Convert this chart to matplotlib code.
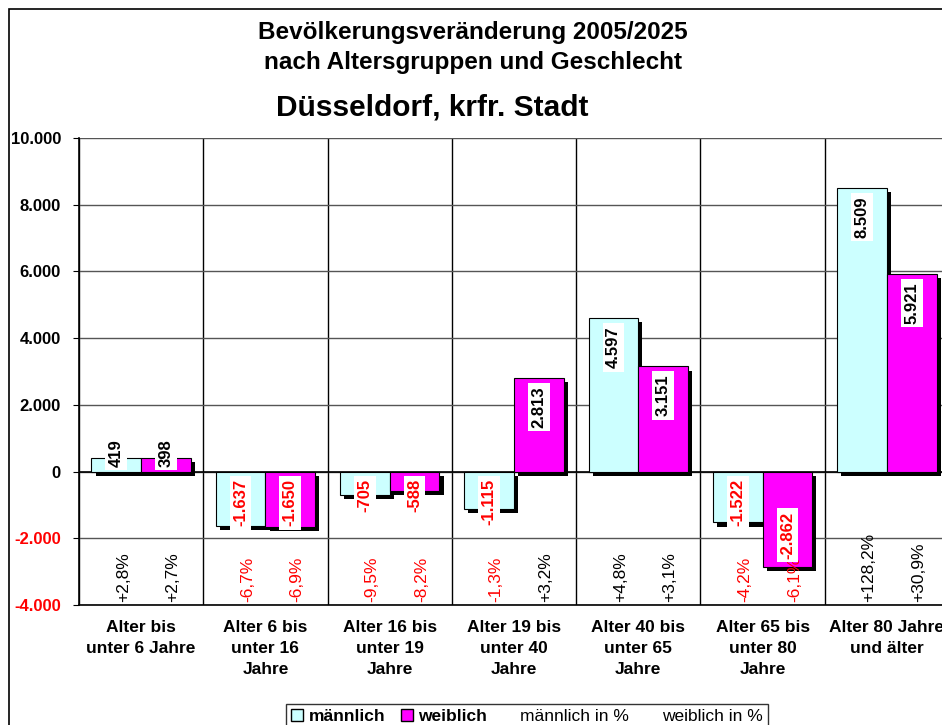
import numpy as np
import matplotlib
matplotlib.use('Agg')
import matplotlib.pyplot as plt
import matplotlib.patheffects as pe
from matplotlib.patches import Patch, Rectangle
from matplotlib.ticker import FuncFormatter

plt.rcParams['font.family'] = ['Liberation Sans', 'DejaVu Sans']

# Data
categories = ['Alter bis\nunter 6 Jahre', 'Alter 6 bis\nunter 16\nJahre',
              'Alter 16 bis\nunter 19\nJahre', 'Alter 19 bis\nunter 40\nJahre',
              'Alter 40 bis\nunter 65\nJahre', 'Alter 65 bis\nunter 80\nJahre',
              'Alter 80 Jahre\nund älter']
maennlich = [419, -1637, -705, -1115, 4597, -1522, 8509]
weiblich = [398, -1650, -588, 2813, 3151, -2862, 5921]
maennlich_pct = [2.8, -6.7, -9.5, -1.3, 4.8, -4.2, 128.2]
weiblich_pct = [2.7, -6.9, -8.2, 3.2, 3.1, -6.1, 30.9]
yticks = [-4000, -2000, 0, 2000, 4000, 6000, 8000, 10000]

c_m = '#CCFFFF'
c_w = '#FF00FF'


def de_num(v):
    return f'{v:,.0f}'.replace(',', '.')


def de_pct(v):
    return f'{v:+.1f}%'.replace('.', ',')


fig = plt.figure(figsize=(9.42, 7.25), dpi=100)
ax = fig.add_axes([79 / 942, 1 - 605 / 725, 870 / 942, 467 / 725])

x = np.arange(len(categories))
w = 0.4
shadow = [pe.SimplePatchShadow(offset=(3, -3), shadow_rgbFace='black', alpha=1.0), pe.Normal()]
bars_m = ax.bar(x - w / 2, maennlich, w, color=c_m, edgecolor='black', linewidth=0.8, zorder=3)
bars_w = ax.bar(x + w / 2, weiblich, w, color=c_w, edgecolor='black', linewidth=0.8, zorder=3)
for b in list(bars_m) + list(bars_w):
    b.set_path_effects(shadow)

ax.set_xlim(-0.5, len(categories) - 0.5)
ax.set_ylim(-4000, 10000)
ax.set_yticks(yticks)
ax.yaxis.set_major_formatter(FuncFormatter(lambda v, p: de_num(v)))
ax.tick_params(axis='y', length=4, pad=9, labelsize=12)
for lab, v in zip(ax.get_yticklabels(), yticks):
    lab.set_fontweight('bold')
    lab.set_color('red' if v < 0 else 'black')
ax.set_xticks(x)
ax.set_xticklabels(categories, fontsize=12.5, fontweight='bold', linespacing=1.5)
ax.tick_params(axis='x', length=0, pad=11)

ax.grid(axis='y', color='#555555', linewidth=1, zorder=0)
for xb in np.arange(len(categories) + 1) - 0.5:
    ax.axvline(xb, color='black', linewidth=1, zorder=1)
ax.axhline(0, color='black', linewidth=1.2, zorder=2)
for s in ['top', 'right']:
    ax.spines[s].set_visible(False)
ax.spines['left'].set_linewidth(1.2)
ax.spines['bottom'].set_linewidth(1.2)

# percent labels
for xs, vals in [(x - w / 2, maennlich_pct), (x + w / 2, weiblich_pct)]:
    for xi, v in zip(xs, vals):
        ax.annotate(de_pct(v), (xi, -3900), xytext=(5, 0), textcoords='offset points',
                    rotation=90, ha='center', va='bottom', fontsize=12.5,
                    color='red' if v < 0 else 'black', zorder=4)

# value labels, inside end of bars
texts = []
for xs, vals in [(x - w / 2, maennlich), (x + w / 2, weiblich)]:
    for xi, v in zip(xs, vals):
        t = ax.text(xi, v, de_num(v), rotation=90, ha='center', fontsize=12,
                    fontweight='bold', color='red' if v < 0 else 'black', zorder=5,
                    bbox=dict(boxstyle='square,pad=0.2', facecolor='white', edgecolor='none'))
        texts.append((t, v))
fig.canvas.draw()
px_per_unit = ax.get_window_extent().height / 14000
for t, v in texts:
    L = t.get_window_extent().height / px_per_unit + 250
    if v >= 0:
        t.set_y(max(v - L, 150))
        t.set_va('bottom')
    else:
        t.set_y(min(v + L, -230))
        t.set_va('top')

# legend
handles = [Patch(facecolor=c_m, edgecolor='black'), Patch(facecolor=c_w, edgecolor='black'),
           Patch(facecolor='none', edgecolor='none'), Patch(facecolor='none', edgecolor='none')]
leg = fig.legend(handles, ['männlich', 'weiblich', 'männlich in %', 'weiblich in %'],
                 loc='upper center', bbox_to_anchor=(527 / 942, 1 - 695 / 725), ncol=4,
                 fontsize=12.5, frameon=True, fancybox=False, handlelength=0.7,
                 handleheight=0.7, handletextpad=0.3, columnspacing=0.9, borderpad=0.3)
leg.get_frame().set_edgecolor('black')
leg.get_frame().set_linewidth(1)
for i, txt in enumerate(leg.get_texts()):
    if i < 2:
        txt.set_fontweight('bold')

# titles
fig.text(473 / 942, 1 - 39 / 725, 'Bevölkerungsveränderung 2005/2025', ha='center',
         va='baseline', fontsize=17.5, fontweight='bold')
fig.text(473 / 942, 1 - 69 / 725, 'nach Altersgruppen und Geschlecht', ha='center',
         va='baseline', fontsize=17.5, fontweight='bold')
fig.text(432 / 942, 1 - 116 / 725, 'Düsseldorf, krfr. Stadt', ha='center',
         va='baseline', fontsize=21.5, fontweight='bold')

# outer frame
fig.patches.append(Rectangle((9 / 942, -0.1), 1.5, 1.1 - 9 / 725, transform=fig.transFigure,
                             facecolor='none', edgecolor='black', linewidth=1.2))

fig.savefig('out.png', dpi=100)
